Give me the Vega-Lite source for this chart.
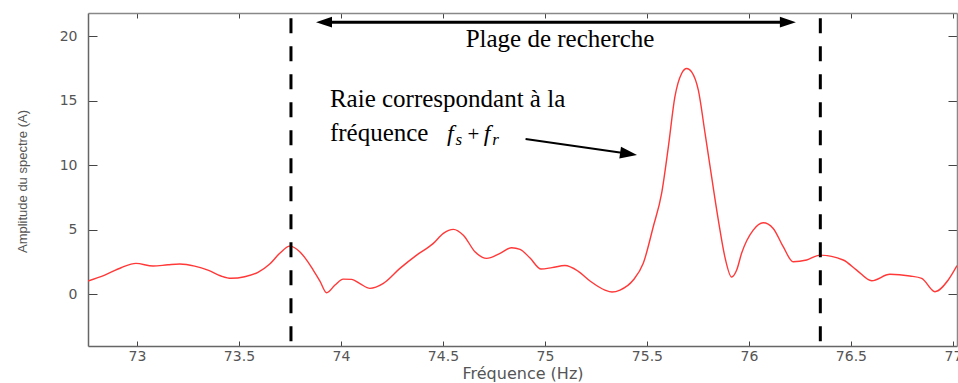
{
  "$schema": "https://vega.github.io/schema/vega-lite/v6.json",
  "width": 869,
  "height": 333,
  "autosize": "none",
  "padding": {"left": 88, "top": 13, "right": 1, "bottom": 37},
  "background": "white",
  "config": {
    "view": {"stroke": null},
    "axis": {
      "grid": false,
      "domainColor": "#666666",
      "domainWidth": 1.5,
      "tickColor": "#444444",
      "tickWidth": 1,
      "labelFont": "DejaVu Sans",
      "labelFontSize": 14,
      "labelColor": "#555555",
      "labelFlush": false,
      "labelOverlap": false,
      "labelBound": false,
      "titleFont": "DejaVu Sans",
      "titleFontWeight": "normal",
      "titleColor": "#555555"
    }
  },
  "layer": [
    {
      "layer": [
        {
          "data": {"values": [
            {"f": 72.76, "a": 1.01}, {"f": 72.842, "a": 1.47}, {"f": 72.922, "a": 2.04}, {"f": 72.995, "a": 2.38},
            {"f": 73.079, "a": 2.17}, {"f": 73.152, "a": 2.27}, {"f": 73.21, "a": 2.33}, {"f": 73.283, "a": 2.17},
            {"f": 73.348, "a": 1.86}, {"f": 73.412, "a": 1.4}, {"f": 73.461, "a": 1.22}, {"f": 73.528, "a": 1.34},
            {"f": 73.593, "a": 1.68}, {"f": 73.651, "a": 2.33}, {"f": 73.7, "a": 3.16}, {"f": 73.749, "a": 3.72},
            {"f": 73.798, "a": 3.28}, {"f": 73.838, "a": 2.5}, {"f": 73.864, "a": 1.86}, {"f": 73.897, "a": 1.01},
            {"f": 73.93, "a": 0.1}, {"f": 73.971, "a": 0.7}, {"f": 74.011, "a": 1.16}, {"f": 74.053, "a": 1.14},
            {"f": 74.093, "a": 0.81}, {"f": 74.142, "a": 0.44}, {"f": 74.208, "a": 0.83}, {"f": 74.289, "a": 1.99},
            {"f": 74.371, "a": 3.02}, {"f": 74.453, "a": 3.93}, {"f": 74.502, "a": 4.71}, {"f": 74.551, "a": 5.02},
            {"f": 74.6, "a": 4.57}, {"f": 74.657, "a": 3.28}, {"f": 74.714, "a": 2.77}, {"f": 74.78, "a": 3.16},
            {"f": 74.837, "a": 3.59}, {"f": 74.878, "a": 3.47}, {"f": 74.927, "a": 2.79}, {"f": 74.981, "a": 1.94},
            {"f": 75.035, "a": 2.05}, {"f": 75.098, "a": 2.21}, {"f": 75.162, "a": 1.78}, {"f": 75.221, "a": 1.01},
            {"f": 75.294, "a": 0.31}, {"f": 75.329, "a": 0.16}, {"f": 75.368, "a": 0.31}, {"f": 75.433, "a": 1.09},
            {"f": 75.482, "a": 2.38}, {"f": 75.531, "a": 5.22}, {"f": 75.572, "a": 7.81}, {"f": 75.605, "a": 11.42},
            {"f": 75.637, "a": 15.29}, {"f": 75.67, "a": 17.11}, {"f": 75.695, "a": 17.5}, {"f": 75.719, "a": 17.23},
            {"f": 75.752, "a": 15.81}, {"f": 75.785, "a": 12.46}, {"f": 75.817, "a": 9.1}, {"f": 75.85, "a": 5.74},
            {"f": 75.882, "a": 2.89}, {"f": 75.915, "a": 1.32}, {"f": 75.94, "a": 1.86}, {"f": 75.964, "a": 3.16},
            {"f": 76.021, "a": 4.96}, {"f": 76.07, "a": 5.53}, {"f": 76.119, "a": 5.09}, {"f": 76.168, "a": 3.67},
            {"f": 76.217, "a": 2.5}, {"f": 76.283, "a": 2.64}, {"f": 76.348, "a": 3.02}, {"f": 76.462, "a": 2.64},
            {"f": 76.528, "a": 1.86}, {"f": 76.602, "a": 1.03}, {"f": 76.691, "a": 1.53}, {"f": 76.789, "a": 1.4},
            {"f": 76.847, "a": 1.22}, {"f": 76.912, "a": 0.18}, {"f": 76.977, "a": 1.09}, {"f": 77.02, "a": 2.2}
          ]},
          "mark": {"type": "line", "color": "#ff3838", "strokeWidth": 1.4, "interpolate": "monotone", "clip": true},
          "encoding": {
            "x": {
              "field": "f", "type": "quantitative",
              "scale": {"domain": [72.76, 77.02], "nice": false, "zero": false},
              "axis": {
                "title": "Fréquence (Hz)",
                "values": [73, 73.5, 74, 74.5, 75, 75.5, 76, 76.5, 77],
                "format": ".1~f",
                "tickSize": -5,
                "labelPadding": 8,
                "titleFontSize": 16,
                "titleY": 27,
                "titleBaseline": "middle"
              }
            },
            "y": {
              "field": "a", "type": "quantitative",
              "scale": {"domain": [-4.03, 21.8], "nice": false, "zero": false},
              "axis": {
                "title": "Amplitude du spectre (A)",
                "values": [0, 5, 10, 15, 20],
                "tickSize": -9,
                "labelPadding": 20,
                "titleFont": "Liberation Sans",
                "titleFontSize": 13,
                "titleAngle": 270,
                "titleX": -66,
                "titleY": 168,
                "titleAlign": "center",
                "titleBaseline": "middle"
              }
            }
          }
        },
        {
          "data": {"values": [{"f": 73.755}, {"f": 76.35}]},
          "mark": {"type": "rule", "color": "black", "strokeWidth": 3, "strokeDash": [15, 13]},
          "encoding": {
            "x": {"field": "f", "type": "quantitative"},
            "y": {"datum": 21.4},
            "y2": {"datum": -3.8}
          }
        },
        {
          "data": {"values": [{"f1": 73.917, "f2": 76.191, "a": 21.09}]},
          "mark": {"type": "rule", "color": "black", "strokeWidth": 3},
          "encoding": {
            "x": {"field": "f1", "type": "quantitative"},
            "x2": {"field": "f2"},
            "y": {"field": "a", "type": "quantitative"}
          }
        },
        {
          "data": {"values": [{"f": 73.917, "a": 21.09}]},
          "mark": {"type": "point", "filled": true, "opacity": 1, "color": "black", "size": 256, "shape": "M-1,0L1,-0.68L1,0.68Z"},
          "encoding": {
            "x": {"field": "f", "type": "quantitative"},
            "y": {"field": "a", "type": "quantitative"}
          }
        },
        {
          "data": {"values": [{"f": 76.191, "a": 21.09}]},
          "mark": {"type": "point", "filled": true, "opacity": 1, "color": "black", "size": 256, "shape": "M1,0L-1,-0.68L-1,0.68Z"},
          "encoding": {
            "x": {"field": "f", "type": "quantitative"},
            "y": {"field": "a", "type": "quantitative"}
          }
        },
        {
          "data": {"values": [{"f1": 74.905, "a1": 12.02, "f2": 75.41, "a2": 10.88}]},
          "mark": {"type": "rule", "color": "black", "strokeWidth": 2},
          "encoding": {
            "x": {"field": "f1", "type": "quantitative"},
            "y": {"field": "a1", "type": "quantitative"},
            "x2": {"field": "f2"},
            "y2": {"field": "a2"}
          }
        },
        {
          "data": {"values": [{"f": 75.41, "a": 10.88}]},
          "mark": {"type": "point", "filled": true, "opacity": 1, "color": "black", "size": 289, "angle": 8, "shape": "M1,0L-1,-0.7L-1,0.7Z"},
          "encoding": {
            "x": {"field": "f", "type": "quantitative"},
            "y": {"field": "a", "type": "quantitative"}
          }
        },
        {
          "data": {"values": [{"t": "Plage de recherche", "f": 75.074, "a": 19.15}]},
          "mark": {"type": "text", "font": "Liberation Serif", "fontSize": 25, "color": "black", "align": "center", "baseline": "alphabetic"},
          "encoding": {
            "x": {"field": "f", "type": "quantitative"},
            "y": {"field": "a", "type": "quantitative"},
            "text": {"field": "t"}
          }
        },
        {
          "data": {"values": [
            {"t": "Raie correspondant à la", "f": 73.946, "a": 14.5},
            {"t": "fréquence", "f": 73.946, "a": 11.86}
          ]},
          "mark": {"type": "text", "font": "Liberation Serif", "fontSize": 25, "color": "black", "align": "left", "baseline": "alphabetic"},
          "encoding": {
            "x": {"field": "f", "type": "quantitative"},
            "y": {"field": "a", "type": "quantitative"},
            "text": {"field": "t"}
          }
        },
        {
          "data": {"values": [
            {"t": "f", "f": 74.52, "a": 11.86},
            {"t": "f", "f": 74.7, "a": 11.86}
          ]},
          "mark": {"type": "text", "font": "Liberation Serif", "fontSize": 24, "fontStyle": "italic", "color": "black", "align": "left", "baseline": "alphabetic"},
          "encoding": {
            "x": {"field": "f", "type": "quantitative"},
            "y": {"field": "a", "type": "quantitative"},
            "text": {"field": "t"}
          }
        },
        {
          "data": {"values": [
            {"t": "s", "f": 74.561, "a": 11.55},
            {"t": "r", "f": 74.742, "a": 11.55}
          ]},
          "mark": {"type": "text", "font": "Liberation Serif", "fontSize": 17, "fontStyle": "italic", "color": "black", "align": "left", "baseline": "alphabetic"},
          "encoding": {
            "x": {"field": "f", "type": "quantitative"},
            "y": {"field": "a", "type": "quantitative"},
            "text": {"field": "t"}
          }
        },
        {
          "data": {"values": [{"t": "+", "f": 74.62, "a": 11.86}]},
          "mark": {"type": "text", "font": "Liberation Serif", "fontSize": 21, "color": "black", "align": "left", "baseline": "alphabetic"},
          "encoding": {
            "x": {"field": "f", "type": "quantitative"},
            "y": {"field": "a", "type": "quantitative"},
            "text": {"field": "t"}
          }
        }
      ]
    },
    {
      "data": {"values": [{"f": 73, "a": 0}]},
      "mark": {"type": "point", "opacity": 0},
      "encoding": {
        "x": {
          "field": "f", "type": "quantitative",
          "scale": {"domain": [72.76, 77.02], "nice": false, "zero": false},
          "axis": {"orient": "top", "labels": false, "title": null, "values": [73, 73.5, 74, 74.5, 75, 75.5, 76, 76.5, 77], "tickSize": -5, "domainColor": "#888888", "domainWidth": 1.5}
        },
        "y": {
          "field": "a", "type": "quantitative",
          "scale": {"domain": [-4.03, 21.8], "nice": false, "zero": false},
          "axis": {"orient": "right", "labels": false, "title": null, "values": [0, 5, 10, 15, 20], "tickSize": -9, "domainColor": "#888888", "domainWidth": 1.5}
        }
      }
    }
  ],
  "resolve": {"scale": {"x": "independent", "y": "independent"}}
}
